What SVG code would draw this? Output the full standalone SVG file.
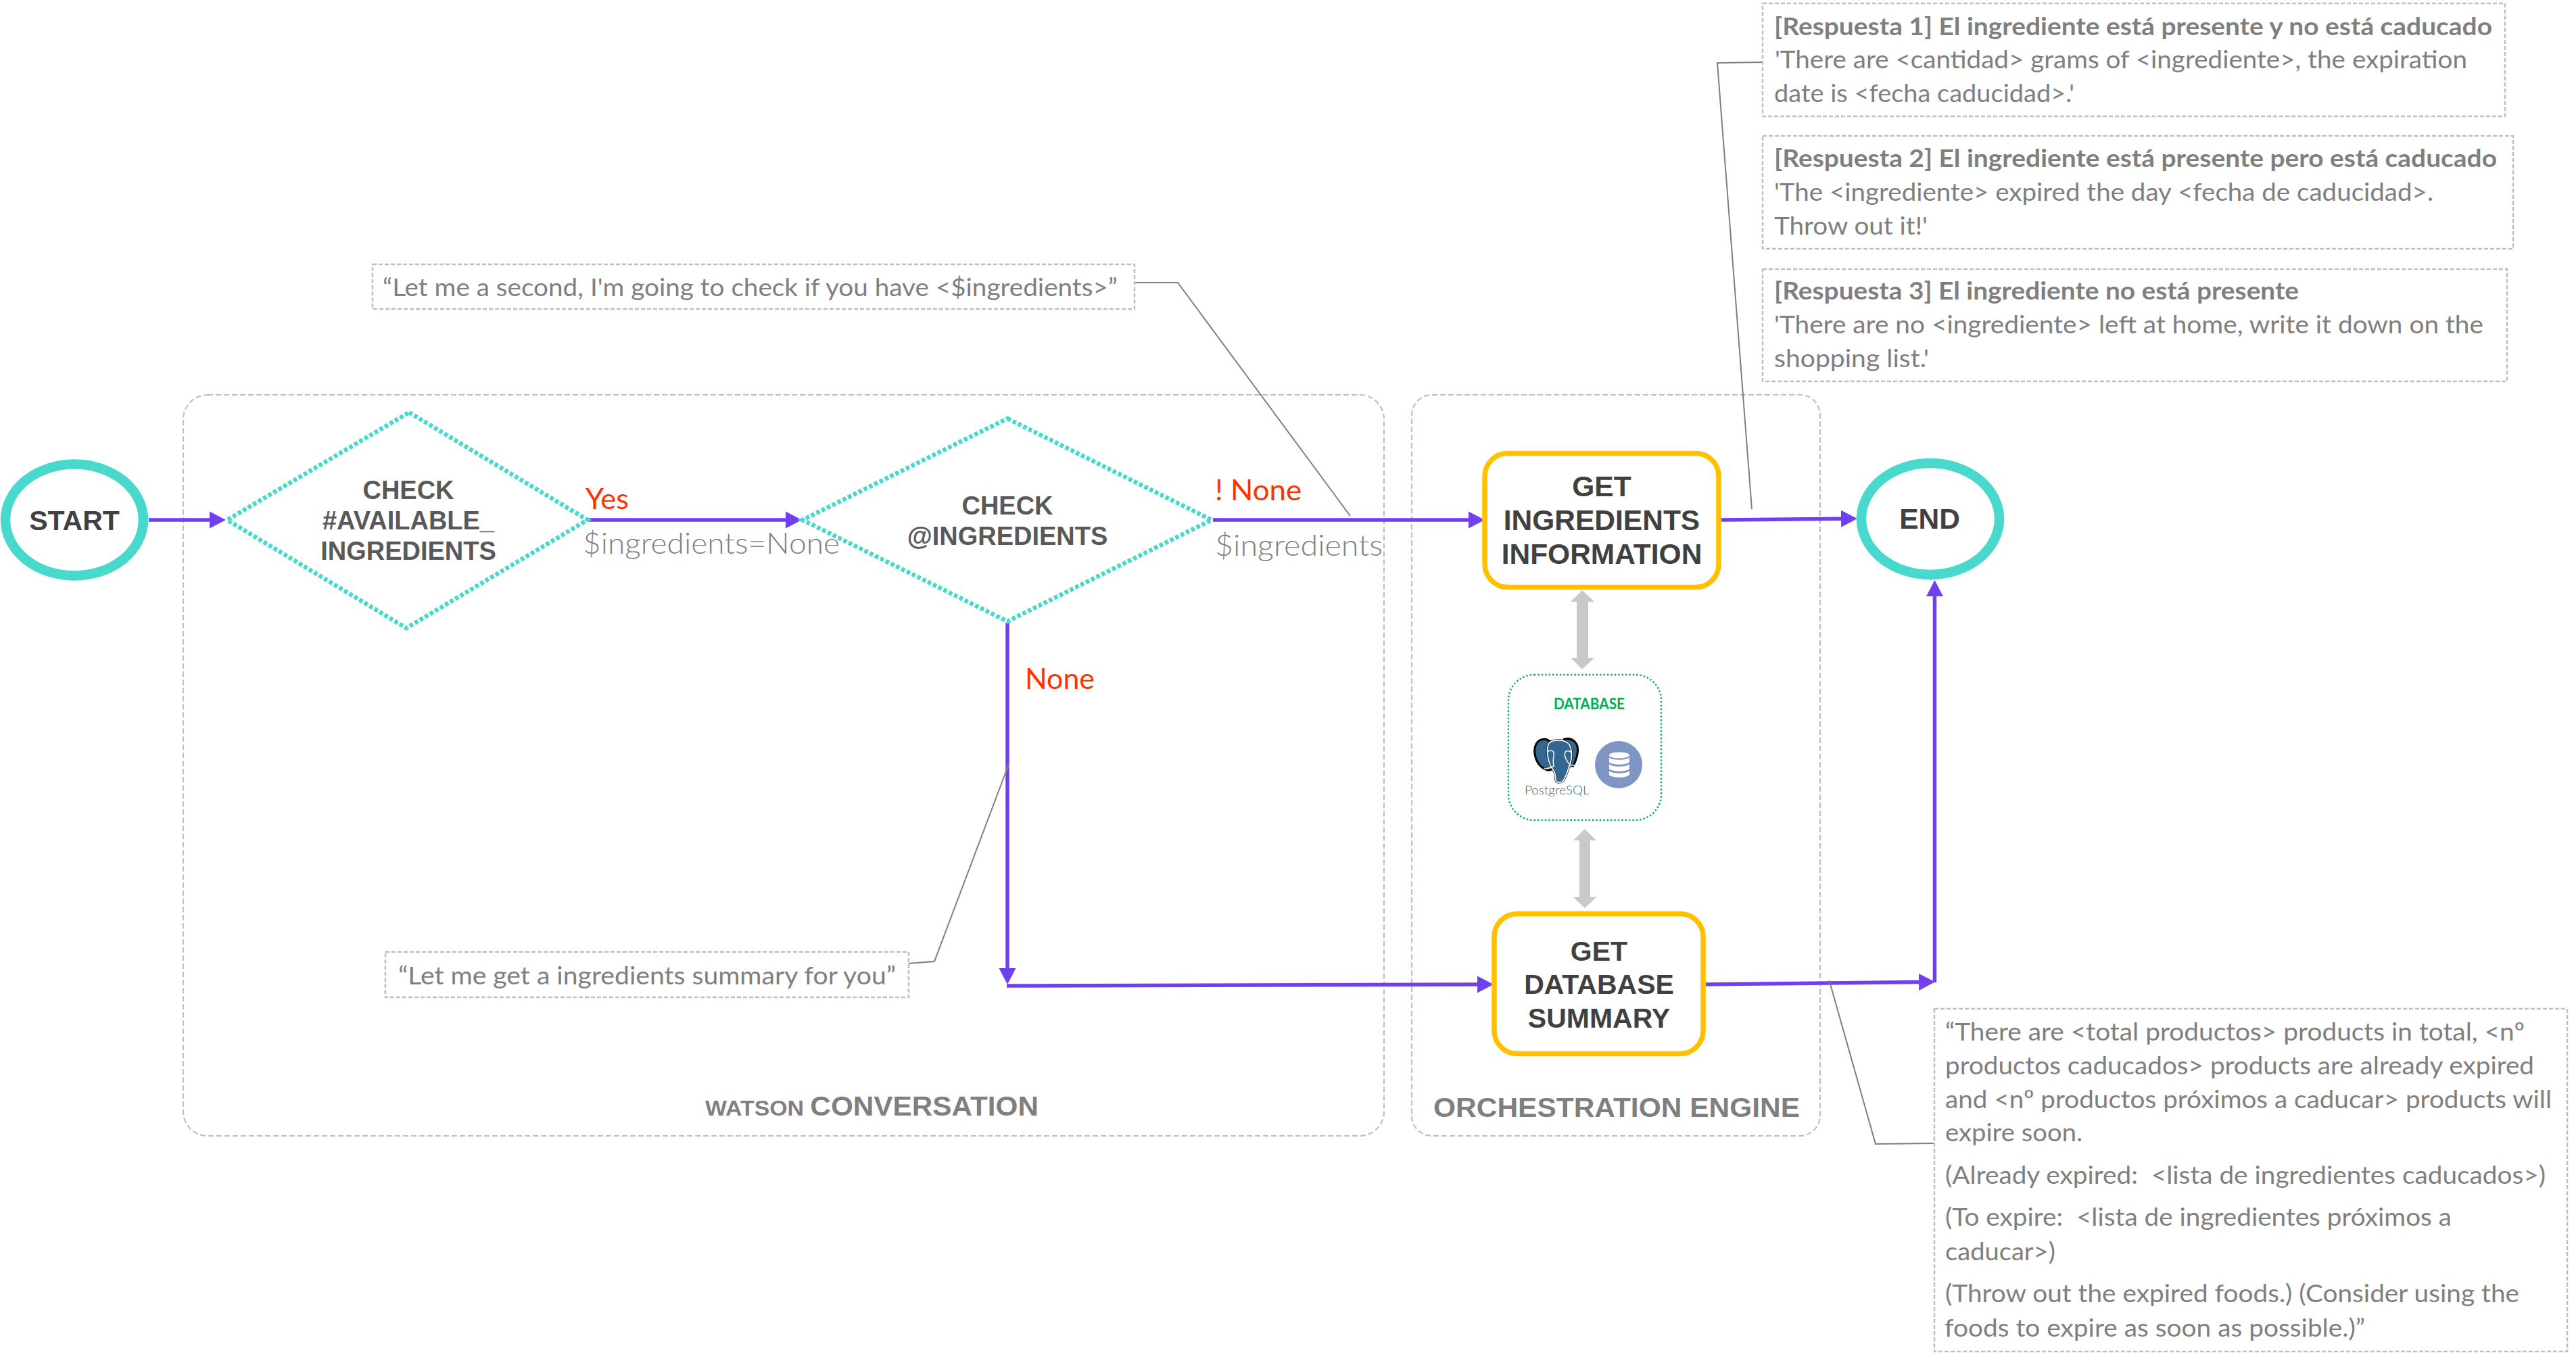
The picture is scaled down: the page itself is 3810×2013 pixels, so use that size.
<svg xmlns="http://www.w3.org/2000/svg" width="3810" height="2013" viewBox="0 0 3810 2013">
<style>
text{font-family:"Liberation Sans",Arial,sans-serif}
.h{font-weight:700;text-anchor:middle}
.d{font-size:42.5px;fill:#404040}
.e{font-size:41px;fill:#404040}
.q{font-size:38px;fill:#595959}
.t{font-size:40px;font-weight:700;fill:#7f7f7f}
.b{font-family:Lato,"Noto Sans",sans-serif;font-size:37px;fill:#7f7f7f;font-weight:400}
.s{font-weight:700}
.l{font-family:Lato,"Noto Sans",sans-serif;font-size:43px;font-weight:300}
.r{fill:#ff3300;font-weight:400}.g{fill:#808080}
.box{fill:#fff;stroke:#bfbfbf;stroke-width:2.5;stroke-dasharray:6 3}
.area{fill:none;stroke:#bfbfbf;stroke-width:2.2;stroke-dasharray:8 4}
.dia{fill:#fff;stroke:#48d9cc;stroke-width:6.5;stroke-dasharray:5.5 3.2}
.ring{fill:#fff;stroke:#48d9cc;stroke-width:14.5}
.step{fill:#fff;stroke:#ffc000;stroke-width:7.5}
.flow{fill:none;stroke:#7040ee;stroke-width:5.5;marker-end:url(#ah)}
.lead{fill:none;stroke:#7f7f7f;stroke-width:2}
.bi{fill:#c9c9c9}
</style>
<defs>
<marker id="ah" markerUnits="userSpaceOnUse" markerWidth="24" markerHeight="26" viewBox="0 0 24 26" refX="1" refY="13" orient="auto"><path d="M0 .5L24 13L0 25.5Z" fill="#7040ee"/></marker>
</defs>
<g id="area-watson"><rect class="area" x="271" y="584" width="1776" height="1096" rx="36"/>
<text class="t" y="1650" x="1043" textLength="493" lengthAdjust="spacingAndGlyphs"><tspan font-size="32">WATSON </tspan>CONVERSATION</text></g>
<g id="area-orchestration"><rect class="area" x="2088" y="584" width="604" height="1096" rx="30"/>
<text class="t" x="2120" y="1652" textLength="542" lengthAdjust="spacingAndGlyphs">ORCHESTRATION ENGINE</text></g>
<g id="connectors">
<path class="flow" d="M220 769H311"/>
<path class="flow" d="M871 769H1163"/>
<path class="flow" d="M1794 769H2173"/>
<path class="flow" d="M2546 769L2724 767.3"/>
<path class="flow" d="M1490 921V1433"/>
<path class="flow" d="M1489 1458L2186 1456"/>
<path class="flow" d="M2523 1456L2839 1452.5"/>
<path class="flow" d="M2861.5 1453V881"/>
<polygon class="bi" points="2340,873 2358,890 2349,890 2349,973 2358,973 2340,990 2323,973 2332,973 2332,890 2323,890"/>
<polygon class="bi" points="2344,1226 2361,1243 2352,1243 2352,1327 2361,1327 2344,1343 2327,1327 2336,1327 2336,1243 2327,1243"/>
<path class="lead" d="M1675 418H1742L1997 763"/>
<path class="lead" d="M1344 1425L1382 1422L1492.5 1129"/>
<path class="lead" d="M2609 92L2540 93L2591 753"/>
<path class="lead" d="M2862 1691L2774 1692L2705.5 1450"/>
</g>
<g id="start"><ellipse class="ring" cx="110" cy="769" rx="102" ry="82.5"/><text class="h e" x="110" y="784">START</text></g>
<g id="check-available"><polygon class="dia" points="605,610 869,769 601,929 336,769"/>
<text class="h q" x="604" y="738">CHECK</text><text class="h q" x="604" y="783">#AVAILABLE_</text><text class="h q" x="604" y="828">INGREDIENTS</text></g>
<g id="check-ingredients"><polygon class="dia" points="1490,619 1792,769 1490,919 1187,769"/>
<text class="h q" x="1490" y="761">CHECK</text><text class="h q" x="1490" y="806">@INGREDIENTS</text></g>
<g id="get-ingredients"><rect class="step" x="2196" y="670.5" width="346" height="198" rx="34"/>
<text class="h d" x="2369" y="734">GET</text><text class="h d" x="2369" y="784">INGREDIENTS</text><text class="h d" x="2369" y="834">INFORMATION</text></g>
<g id="get-summary"><rect class="step" x="2210" y="1351.5" width="309" height="207" rx="34"/>
<text class="h e" x="2365" y="1421">GET</text><text class="h e" x="2365" y="1470">DATABASE</text><text class="h e" x="2365" y="1520">SUMMARY</text></g>
<g id="end"><ellipse class="ring" cx="2855" cy="767.5" rx="102" ry="82.5"/><text class="h d" x="2854" y="782">END</text></g>
<g id="database">
<rect x="2231" y="998" width="226" height="215" rx="38" fill="#fff" stroke="#00b050" stroke-width="2.4" stroke-dasharray="2.4 3"/>
<text x="2298" y="1049" font-size="22" font-weight="700" fill="#00b050" textLength="105" lengthAdjust="spacingAndGlyphs" style="font-family:Lato,sans-serif">DATABASE</text>
<g transform="translate(2230 990) scale(.3333)">
<g fill="#336791" stroke="#000" stroke-width="9" stroke-linejoin="round">
<path d="M170 310C128 305 112 345 122 385C130 420 155 445 182 448L210 440V330Z"/>
<path d="M250 310C290 300 316 330 310 370C305 400 296 420 288 432L250 432Z"/>
<path d="M185 325C205 310 250 312 265 325C290 345 285 400 276 420C268 440 262 475 245 495C235 505 215 505 212 490C210 470 212 455 200 445C180 420 165 350 185 325Z"/>
</g>
<path d="M185 325C205 310 250 312 265 325C290 345 285 400 276 420C268 440 262 475 245 495C235 505 215 505 212 490C210 470 212 455 200 445C180 420 165 350 185 325Z" fill="#336791" stroke="#fff" stroke-width="5"/>
<path d="M180 365C190 355 207 362 205 378C203 395 198 410 205 430M282 370C270 355 252 362 253 378C254 395 262 410 280 425L310 425C300 440 285 438 272 430M160 440C175 445 190 435 205 430" fill="none" stroke="#fff" stroke-width="4.5"/>
<text x="75" y="555" font-size="54" fill="#555" textLength="287" lengthAdjust="spacingAndGlyphs" style="font-family:Lato,sans-serif;font-weight:300">Postgre<tspan fill="#336791">SQL</tspan></text>
</g>
<circle cx="2394" cy="1131" r="35" fill="#7f96c4"/>
<g fill="#fff"><ellipse cx="2395" cy="1117" rx="15" ry="4.5"/><path d="M2380 1120C2384 1125 2406 1125 2410 1120V1127C2406 1132 2384 1132 2380 1127Z"/><path d="M2380 1130C2384 1135 2406 1135 2410 1130V1137C2406 1142 2384 1142 2380 1137Z"/><path d="M2380 1140C2384 1145 2406 1145 2410 1140V1146C2406 1151 2384 1151 2380 1146Z"/></g>
</g>
<g id="labels">
<text class="l r" x="866" y="753" textLength="64" lengthAdjust="spacingAndGlyphs">Yes</text>
<text class="l g" x="862" y="819" textLength="380" lengthAdjust="spacingAndGlyphs">$ingredients=None</text>
<text class="l r" x="1797" y="740" textLength="128" lengthAdjust="spacingAndGlyphs">! None</text>
<text class="l g" x="1797" y="822" textLength="248" lengthAdjust="spacingAndGlyphs">$ingredients</text>
<text class="l r" x="1516" y="1019" textLength="103" lengthAdjust="spacingAndGlyphs">None</text>
</g>
<g id="note-check"><rect class="box" x="551" y="391" width="1127" height="66"/>
<text class="b" x="566" y="438" textLength="1087" lengthAdjust="spacingAndGlyphs">“Let me a second, I'm going to check if you have &lt;$ingredients&gt;”</text></g>
<g id="note-summary"><rect class="box" x="570" y="1408" width="774" height="67"/>
<text class="b" x="589" y="1456" textLength="736" lengthAdjust="spacingAndGlyphs">“Let me get a ingredients summary for you”</text></g>
<g id="note-respuesta-1"><rect class="box" x="2607" y="5" width="1098" height="167"/>
<text class="b s" x="2624" y="52" textLength="1062" lengthAdjust="spacingAndGlyphs">[Respuesta 1] El ingrediente está presente y no está caducado</text>
<text class="b" x="2625" y="101" textLength="1024" lengthAdjust="spacingAndGlyphs">'There are &lt;cantidad&gt; grams of &lt;ingrediente&gt;, the expiration</text>
<text class="b" x="2624" y="151" textLength="444" lengthAdjust="spacingAndGlyphs">date is &lt;fecha caducidad&gt;.'</text></g>
<g id="note-respuesta-2"><rect class="box" x="2607" y="201" width="1110" height="167"/>
<text class="b s" x="2624" y="247" textLength="1069" lengthAdjust="spacingAndGlyphs">[Respuesta 2] El ingrediente está presente pero está caducado</text>
<text class="b" x="2624" y="297" textLength="975" lengthAdjust="spacingAndGlyphs">'The &lt;ingrediente&gt; expired the day &lt;fecha de caducidad&gt;.</text>
<text class="b" x="2624" y="347" textLength="227" lengthAdjust="spacingAndGlyphs">Throw out it!'</text></g>
<g id="note-respuesta-3"><rect class="box" x="2607" y="398" width="1101" height="166"/>
<text class="b s" x="2624" y="443" textLength="776" lengthAdjust="spacingAndGlyphs">[Respuesta 3] El ingrediente no está presente</text>
<text class="b" x="2624" y="493" textLength="1049" lengthAdjust="spacingAndGlyphs">'There are no &lt;ingrediente&gt; left at home, write it down on the</text>
<text class="b" x="2624" y="543" textLength="229" lengthAdjust="spacingAndGlyphs">shopping list.'</text></g>
<g id="note-total"><rect class="box" x="2861" y="1492" width="936" height="507"/>
<text class="b" x="2877" y="1539" textLength="857" lengthAdjust="spacingAndGlyphs">“There are &lt;total productos&gt; products in total, &lt;nº</text>
<text class="b" x="2877" y="1589" textLength="871" lengthAdjust="spacingAndGlyphs">productos caducados&gt; products are already expired</text>
<text class="b" x="2877" y="1639" textLength="897" lengthAdjust="spacingAndGlyphs">and &lt;nº productos próximos a caducar&gt; products will</text>
<text class="b" x="2877" y="1688" textLength="203" lengthAdjust="spacingAndGlyphs">expire soon.</text>
<text class="b" x="2877" y="1751" textLength="888" lengthAdjust="spacingAndGlyphs" xml:space="preserve">(Already expired:  &lt;lista de ingredientes caducados&gt;)</text>
<text class="b" x="2877" y="1813" textLength="749" lengthAdjust="spacingAndGlyphs" xml:space="preserve">(To expire:  &lt;lista de ingredientes próximos a</text>
<text class="b" x="2877" y="1864" textLength="163" lengthAdjust="spacingAndGlyphs">caducar&gt;)</text>
<text class="b" x="2877" y="1926" textLength="849" lengthAdjust="spacingAndGlyphs">(Throw out the expired foods.) (Consider using the</text>
<text class="b" x="2876" y="1977" textLength="622" lengthAdjust="spacingAndGlyphs">foods to expire as soon as possible.)”</text></g>
</svg>
